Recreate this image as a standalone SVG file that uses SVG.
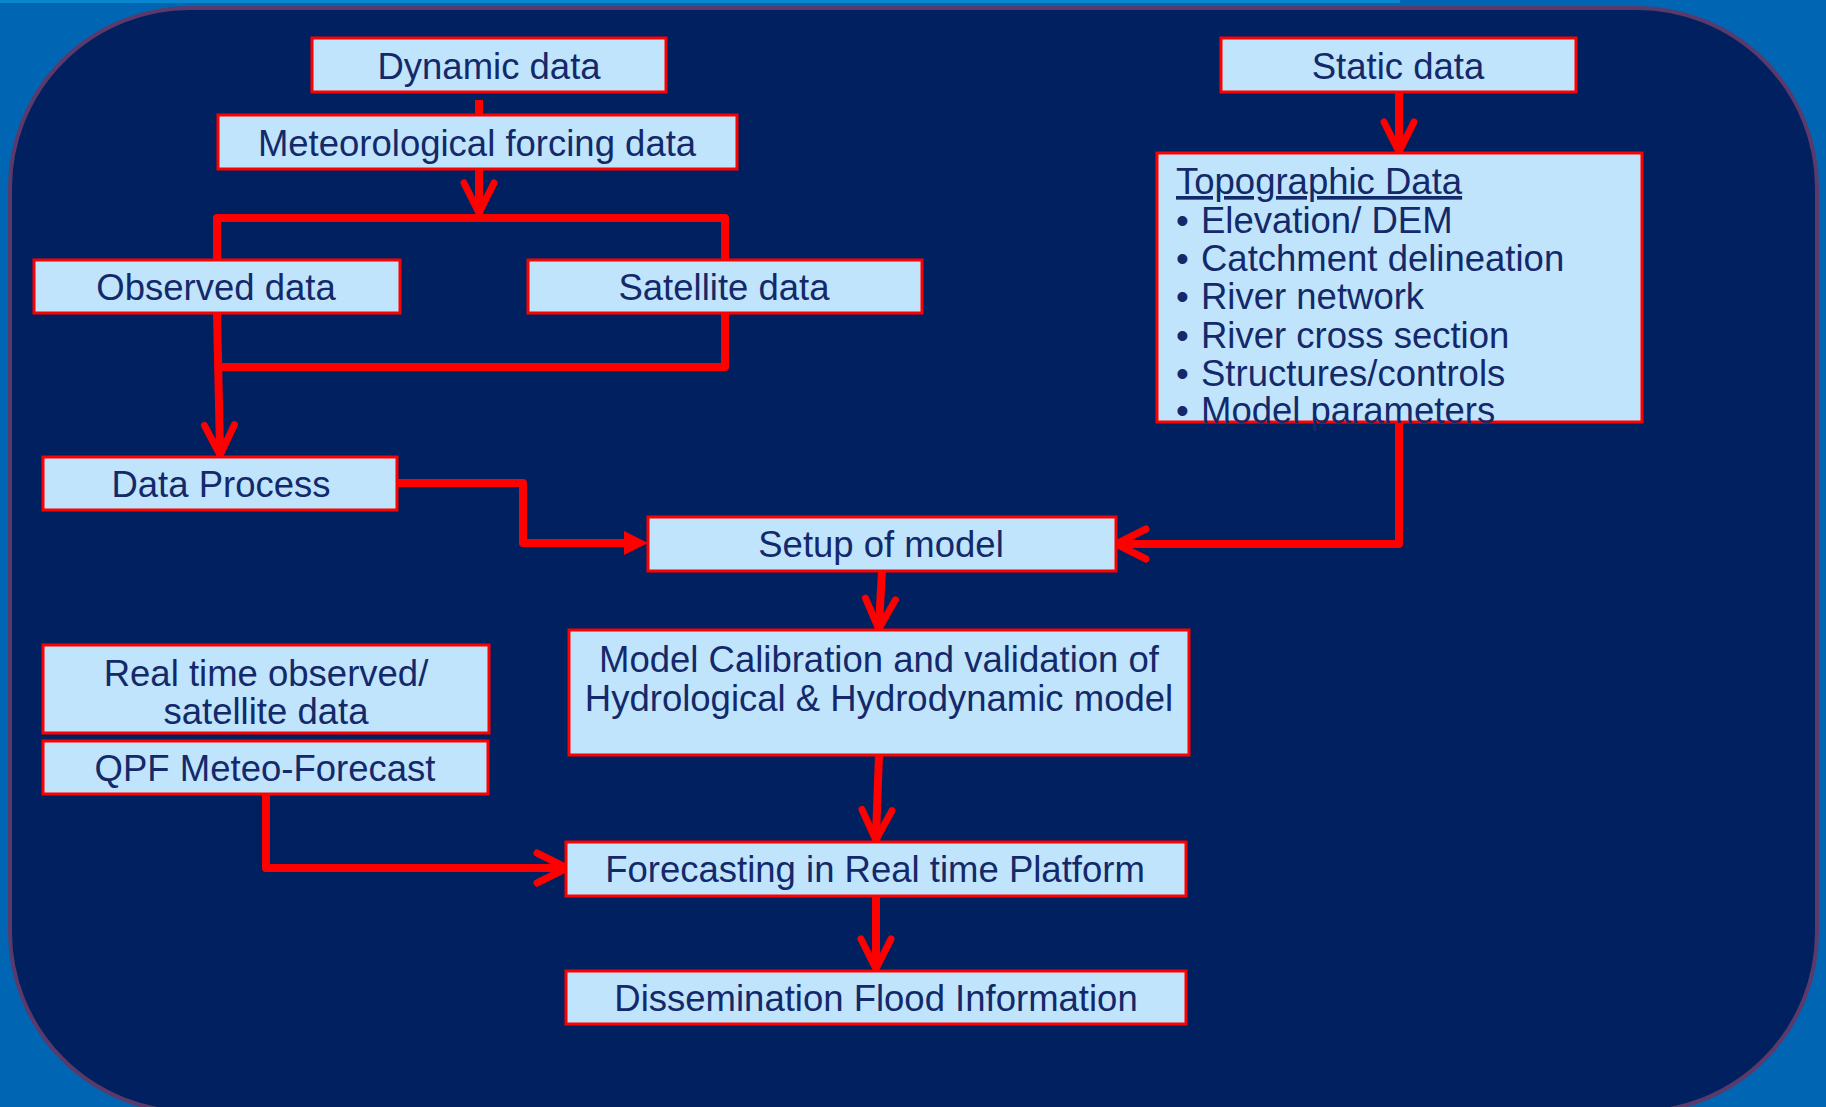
<svg xmlns="http://www.w3.org/2000/svg" width="1826" height="1107" viewBox="0 0 1826 1107">
<defs>
<style>
.box{fill:#bfe4fc;stroke:#ff0000;stroke-width:3}
.t{font-family:"Liberation Sans",Arial,sans-serif;font-size:36.5px;fill:#14296a;text-anchor:middle}
.tl{font-family:"Liberation Sans",Arial,sans-serif;font-size:36.5px;fill:#14296a}
.c{fill:none;stroke:#ff0000;stroke-width:8;stroke-linejoin:round}
</style>
<marker id="vee" markerUnits="userSpaceOnUse" viewBox="-40 -25 50 50" markerWidth="50" markerHeight="50" refX="-4" refY="0" orient="auto" overflow="visible">
<path d="M-30,-15 L0,0 L-30,15" fill="none" stroke="#ff0000" stroke-width="7" stroke-linecap="round" stroke-linejoin="round"/>
</marker>
<marker id="tri" markerUnits="userSpaceOnUse" viewBox="-40 -25 50 50" markerWidth="50" markerHeight="50" refX="-12" refY="0" orient="auto" overflow="visible">
<path d="M-24,-12 L0,0 L-24,12 Z" fill="#ff0000"/>
</marker>
</defs>
<rect x="0" y="0" width="1826" height="1107" fill="#0065b3"/>
<rect x="0" y="0" width="1400" height="3" fill="#0a86cf"/>
<rect id="frame" x="10" y="8" width="1807" height="1104" rx="180" ry="180" fill="#00205f" stroke="#5b3a6b" stroke-width="4"/>

<g id="connectors">
<path class="c" d="M479,100 V115"/>
<path class="c" d="M479,169 V209" marker-end="url(#vee)"/>
<path class="c" d="M217,260 V218 H725 V260"/>
<path class="c" d="M725,313 V367 H217"/>
<path class="c" d="M217,313 L220,451" marker-end="url(#vee)"/>
<path class="c" d="M397,483 H523 V543 H636" marker-end="url(#tri)"/>
<path class="c" d="M1399,92 V148" marker-end="url(#vee)"/>
<path class="c" d="M1399,422 V544 H1120" marker-end="url(#vee)"/>
<path class="c" d="M882,571 L879,625" marker-end="url(#vee)"/>
<path class="c" d="M879,755 L876,836" marker-end="url(#vee)"/>
<path class="c" d="M876,896 V965" marker-end="url(#vee)"/>
<path class="c" d="M266,794 V868 H563" marker-end="url(#vee)"/>
</g>

<g id="dynamic"><rect class="box" x="312" y="38" width="354" height="54"/><text class="t" x="489" y="79">Dynamic data</text></g>
<g id="met"><rect class="box" x="218" y="115" width="519" height="54"/><text class="t" x="477" y="156">Meteorological forcing data</text></g>
<g id="observed"><rect class="box" x="34" y="260" width="366" height="53"/><text class="t" x="216" y="300">Observed data</text></g>
<g id="satellite"><rect class="box" x="528" y="260" width="394" height="53"/><text class="t" x="724" y="300">Satellite data</text></g>
<g id="dataprocess"><rect class="box" x="43" y="457" width="354" height="53"/><text class="t" x="221" y="497">Data Process</text></g>
<g id="static"><rect class="box" x="1221" y="38" width="355" height="54"/><text class="t" x="1398" y="79">Static data</text></g>
<g id="topographic"><rect class="box" x="1157" y="153" width="485" height="269"/>
<text class="tl" x="1176" y="194" text-decoration="underline">Topographic Data</text>
<text class="tl" y="233"><tspan x="1176">•</tspan><tspan x="1201">Elevation/ DEM</tspan></text>
<text class="tl" y="271"><tspan x="1176">•</tspan><tspan x="1201">Catchment delineation</tspan></text>
<text class="tl" y="309"><tspan x="1176">•</tspan><tspan x="1201">River network</tspan></text>
<text class="tl" y="348"><tspan x="1176">•</tspan><tspan x="1201">River cross section</tspan></text>
<text class="tl" y="386"><tspan x="1176">•</tspan><tspan x="1201">Structures/controls</tspan></text>
<text class="tl" y="423"><tspan x="1176">•</tspan><tspan x="1201">Model parameters</tspan></text>
</g>
<g id="setup"><rect class="box" x="648" y="517" width="468" height="54"/><text class="t" x="881" y="557">Setup of model</text></g>
<g id="calibration"><rect class="box" x="569" y="630" width="620" height="125"/><text class="t" x="879" y="672">Model Calibration and validation of</text><text class="t" x="879" y="711">Hydrological &amp; Hydrodynamic model</text></g>
<g id="realtime"><rect class="box" x="43" y="645" width="446" height="88"/><text class="t" x="266" y="686">Real time observed/</text><text class="t" x="266" y="724">satellite data</text></g>
<g id="qpf"><rect class="box" x="43" y="741" width="445" height="53"/><text class="t" x="265" y="781">QPF Meteo-Forecast</text></g>
<g id="forecasting"><rect class="box" x="566" y="842" width="620" height="54"/><text class="t" x="875" y="882">Forecasting in Real time Platform</text></g>
<g id="dissemination"><rect class="box" x="566" y="971" width="620" height="53"/><text class="t" x="876" y="1011">Dissemination Flood Information</text></g>
</svg>
